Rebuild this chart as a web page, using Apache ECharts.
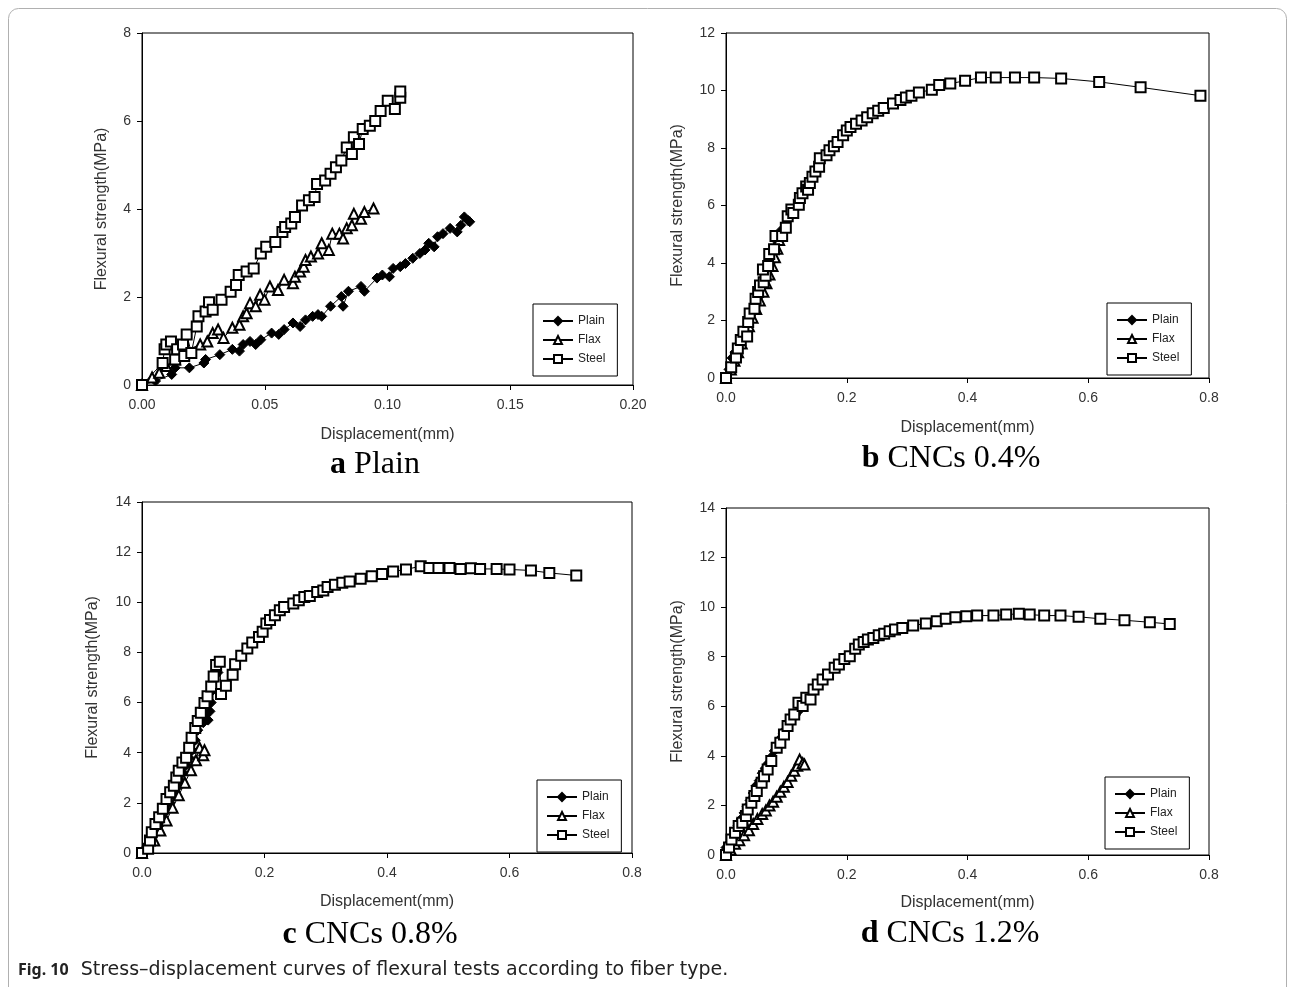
<!DOCTYPE html>
<html>
<head>
<meta charset="utf-8">
<script src="https://cdn.jsdelivr.net/npm/echarts@6/dist/echarts.min.js"></script>
<style>
  html, body { margin: 0; padding: 0; background: #fff; }
  #chart { width: 1295px; height: 987px; }
</style>
</head>
<body>
<div id="chart"></div>
<script>
// Series names shared by all four panels
const seriesNames = ['Plain', 'Flax', 'Steel'];

// Panel captions
const panelLetters = ['a', 'b', 'c', 'd'];
const panelTitles = ['Plain', 'CNCs 0.4%', 'CNCs 0.8%', 'CNCs 1.2%'];

// Axis ranges [min, max, interval]
const xRanges = [[0, 0.2, 0.05], [0, 0.8, 0.2], [0, 0.8, 0.2], [0, 0.8, 0.2]];
const yRanges = [[0, 8, 2], [0, 12, 2], [0, 14, 2], [0, 14, 2]];

// (a) Plain matrix: [displacement mm, flexural strength MPa]
const plainA = [[0,0],[0.0055,0.09],[0.0121,0.24],[0.0135,0.39],[0.0193,0.39],[0.0252,0.50],[0.0259,0.58],[0.0317,0.69],[0.0368,0.81],[0.0397,0.77],[0.0412,0.92],[0.044,0.99],[0.0463,0.92],[0.0484,1.03],[0.0528,1.18],[0.0557,1.15],[0.0579,1.26],[0.0615,1.41],[0.0644,1.33],[0.0666,1.48],[0.0695,1.56],[0.0717,1.60],[0.0732,1.56],[0.0768,1.79],[0.0812,2.01],[0.0819,1.79],[0.0841,2.13],[0.0892,2.24],[0.0906,2.13],[0.0957,2.43],[0.0979,2.50],[0.1008,2.46],[0.1023,2.65],[0.1052,2.69],[0.1073,2.76],[0.1103,2.88],[0.1132,2.99],[0.1153,3.07],[0.1168,3.22],[0.119,3.14],[0.1204,3.37],[0.1226,3.44],[0.1255,3.56],[0.1284,3.48],[0.1299,3.63],[0.1313,3.82],[0.1328,3.74],[0.1335,3.71]];
const flaxA = [[0,0],[0.0041,0.17],[0.007,0.28],[0.0099,0.43],[0.0135,0.58],[0.0172,0.77],[0.0237,0.92],[0.0266,0.99],[0.0288,1.18],[0.031,1.26],[0.0332,1.07],[0.0368,1.30],[0.0397,1.37],[0.0412,1.56],[0.0426,1.63],[0.044,1.86],[0.0463,1.79],[0.0481,2.05],[0.0499,1.94],[0.0521,2.24],[0.0554,2.16],[0.0579,2.39],[0.0615,2.31],[0.0623,2.46],[0.0644,2.58],[0.0659,2.69],[0.0666,2.84],[0.0688,2.92],[0.0717,2.99],[0.0732,3.22],[0.0761,3.07],[0.0775,3.44],[0.0804,3.44],[0.0819,3.33],[0.0834,3.56],[0.0855,3.63],[0.0863,3.89],[0.0892,3.78],[0.0906,3.93],[0.0943,4.01]];
const steelA = [[0,0],[0.0084,0.50],[0.0092,0.81],[0.0099,0.92],[0.0118,0.99],[0.0135,0.58],[0.0143,0.81],[0.0167,0.92],[0.0172,0.66],[0.0182,1.15],[0.0201,0.73],[0.0223,1.33],[0.023,1.56],[0.0259,1.67],[0.0273,1.88],[0.0288,1.71],[0.0324,1.94],[0.0361,2.12],[0.0383,2.27],[0.0394,2.50],[0.0426,2.58],[0.0455,2.65],[0.0484,2.99],[0.0506,3.14],[0.0543,3.25],[0.0572,3.48],[0.0583,3.59],[0.0608,3.67],[0.0623,3.82],[0.0652,4.08],[0.068,4.20],[0.0703,4.27],[0.0713,4.57],[0.0746,4.65],[0.0768,4.80],[0.079,4.95],[0.0812,5.10],[0.0834,5.40],[0.0855,5.25],[0.0863,5.63],[0.0884,5.48],[0.0899,5.82],[0.0928,5.89],[0.095,6.00],[0.0972,6.23],[0.1001,6.46],[0.103,6.27],[0.1052,6.53],[0.1052,6.67]];

// (b) CNCs 0.4%
const plainB = [[0,0],[0.005,0.3],[0.01,0.7],[0.015,0.9],[0.022,1.1],[0.028,1.4],[0.034,1.7],[0.04,2.0],[0.046,2.3],[0.052,2.6],[0.058,2.9],[0.063,3.2],[0.068,3.5],[0.073,3.8],[0.078,4.1],[0.082,4.4],[0.086,4.7],[0.09,5.0],[0.092,5.15]];
const flaxB = [[0,0],[0.008,0.3],[0.014,0.6],[0.02,0.9],[0.026,1.2],[0.032,1.5],[0.038,1.8],[0.044,2.1],[0.05,2.4],[0.056,2.7],[0.062,3.0],[0.067,3.3],[0.072,3.6],[0.077,3.9],[0.081,4.2],[0.085,4.5],[0.088,4.8],[0.09,5.0]];
const steelB = [[0,0],[0.0086,0.37],[0.0165,0.71],[0.0196,1.03],[0.0245,1.32],[0.0288,1.61],[0.035,1.44],[0.0367,1.95],[0.0392,2.24],[0.0471,2.41],[0.049,2.76],[0.0532,2.99],[0.0563,3.22],[0.0624,3.33],[0.0655,3.56],[0.0612,3.77],[0.0698,3.90],[0.0716,4.31],[0.0796,4.48],[0.082,4.94],[0.093,4.94],[0.0991,5.23],[0.1022,5.63],[0.1083,5.86],[0.1114,5.74],[0.1206,6.03],[0.1224,6.26],[0.1267,6.43],[0.1328,6.66],[0.1359,6.55],[0.1389,6.78],[0.1432,7.00],[0.1481,7.18],[0.1542,7.35],[0.1554,7.64],[0.1665,7.75],[0.1714,7.92],[0.1787,8.06],[0.1848,8.21],[0.194,8.44],[0.2001,8.61],[0.2062,8.73],[0.2154,8.84],[0.2246,8.96],[0.2338,9.07],[0.243,9.21],[0.2521,9.30],[0.2613,9.39],[0.2766,9.55],[0.2889,9.67],[0.298,9.76],[0.3072,9.82],[0.3195,9.93],[0.3409,10.03],[0.3531,10.19],[0.3715,10.24],[0.396,10.34],[0.4223,10.45],[0.4468,10.45],[0.4786,10.45],[0.5104,10.45],[0.5551,10.42],[0.6181,10.30],[0.6867,10.11],[0.7858,9.82]];

// (c) CNCs 0.8%
const plainC = [[0,0],[0.008,0.2],[0.015,0.5],[0.022,0.8],[0.028,1.1],[0.034,1.4],[0.04,1.7],[0.046,2.0],[0.052,2.3],[0.057,2.6],[0.062,2.9],[0.067,3.2],[0.072,3.5],[0.077,3.8],[0.082,4.1],[0.087,4.5],[0.091,4.9],[0.095,5.3],[0.1,5.2],[0.104,5.5],[0.108,5.3],[0.111,5.65],[0.113,6.0],[0.116,6.5],[0.118,6.9],[0.12,7.1],[0.122,7.3],[0.124,7.2]];
const flaxC = [[0,0],[0.01,0.2],[0.02,0.5],[0.03,0.9],[0.04,1.3],[0.05,1.8],[0.06,2.3],[0.07,2.8],[0.08,3.3],[0.088,3.7],[0.094,4.2],[0.1,3.9],[0.102,4.1]];
const steelC = [[0,0],[0.01,0.17],[0.013,0.5],[0.016,0.83],[0.022,1.16],[0.028,1.43],[0.034,1.76],[0.04,2.15],[0.046,2.42],[0.052,2.68],[0.056,3.01],[0.06,3.28],[0.066,3.61],[0.072,3.80],[0.077,4.20],[0.081,4.60],[0.087,4.99],[0.091,5.26],[0.096,5.59],[0.102,5.98],[0.107,6.25],[0.113,6.64],[0.117,7.04],[0.121,7.50],[0.127,7.63],[0.129,6.34],[0.137,6.67],[0.148,7.11],[0.152,7.53],[0.162,7.87],[0.172,8.16],[0.18,8.40],[0.191,8.62],[0.197,8.82],[0.203,9.15],[0.209,9.29],[0.217,9.48],[0.225,9.68],[0.232,9.81],[0.247,9.95],[0.256,10.08],[0.265,10.21],[0.274,10.25],[0.286,10.41],[0.296,10.47],[0.303,10.61],[0.315,10.70],[0.327,10.78],[0.339,10.83],[0.357,10.94],[0.375,11.04],[0.392,11.13],[0.41,11.23],[0.431,11.31],[0.455,11.44],[0.469,11.37],[0.484,11.37],[0.502,11.37],[0.52,11.33],[0.537,11.36],[0.552,11.33],[0.579,11.33],[0.6,11.31],[0.635,11.27],[0.665,11.17],[0.709,11.07]];

// (d) CNCs 1.2%
const plainD = [[0,0.3],[0.006,0.5],[0.01,0.7],[0.015,0.95],[0.02,1.2],[0.025,1.45],[0.03,1.7],[0.035,1.95],[0.04,2.2],[0.045,2.5],[0.05,2.8],[0.055,3.0],[0.06,3.3],[0.065,3.5],[0.07,3.7],[0.075,3.95],[0.08,4.2],[0.085,4.45],[0.09,4.7],[0.095,4.9],[0.1,5.1],[0.105,5.3],[0.11,5.5],[0.115,5.65],[0.12,5.8]];
const flaxD = [[0,0],[0.008,0.2],[0.015,0.45],[0.022,0.6],[0.03,0.8],[0.038,1.0],[0.045,1.25],[0.052,1.45],[0.06,1.65],[0.066,1.8],[0.072,2.0],[0.078,2.15],[0.084,2.35],[0.09,2.55],[0.096,2.75],[0.102,2.95],[0.108,3.2],[0.113,3.4],[0.118,3.6],[0.122,3.85],[0.127,3.7],[0.13,3.65]];
const steelD = [[0,0],[0.005,0.30],[0.009,0.63],[0.015,0.90],[0.021,1.17],[0.027,1.30],[0.033,1.57],[0.036,1.84],[0.042,2.11],[0.047,2.38],[0.051,2.58],[0.059,2.92],[0.063,3.18],[0.069,3.45],[0.075,3.79],[0.084,4.33],[0.09,4.53],[0.096,4.86],[0.102,5.20],[0.107,5.47],[0.113,5.67],[0.12,6.14],[0.127,6.01],[0.133,6.34],[0.14,6.27],[0.145,6.68],[0.152,6.88],[0.16,7.08],[0.169,7.28],[0.18,7.55],[0.187,7.69],[0.196,7.91],[0.205,8.02],[0.214,8.32],[0.22,8.49],[0.228,8.59],[0.235,8.69],[0.244,8.76],[0.253,8.87],[0.262,8.93],[0.271,9.03],[0.28,9.10],[0.292,9.16],[0.31,9.26],[0.331,9.34],[0.349,9.43],[0.364,9.53],[0.38,9.59],[0.398,9.63],[0.416,9.66],[0.443,9.66],[0.464,9.70],[0.485,9.73],[0.503,9.70],[0.527,9.66],[0.554,9.66],[0.584,9.61],[0.62,9.53],[0.66,9.47],[0.702,9.39],[0.735,9.32]];

const panelData = [
  [plainA, flaxA, steelA],
  [plainB, flaxB, steelB],
  [plainC, flaxC, steelC],
  [plainD, flaxD, steelD]
];

// Layout of the four plot boxes
const grids = [
  { left: 142, top: 33, width: 491, height: 352 },
  { left: 726, top: 33, width: 483, height: 345 },
  { left: 142, top: 502, width: 490, height: 351 },
  { left: 726, top: 508, width: 483, height: 347 }
];
const xNameGaps = [42, 42, 41, 40];
const yNameGaps = [32, 40, 41, 40];
const legendPos = [
  { left: 533, top: 304 },
  { left: 1107, top: 303 },
  { left: 537, top: 780 },
  { left: 1105, top: 777 }
];
const captionPos = [[375, 465], [951, 459], [370, 935], [950, 934]];

const symbols = ['diamond', 'emptyTriangle', 'emptyRect'];
const symbolSizes = [10, 10, 10];
const labelColor = '#333';
const tickFont = 'Arial, "Liberation Sans", sans-serif';

const option = {
  animation: false,
  backgroundColor: '#fff',
  grid: grids.map(g => Object.assign({ show: true, borderColor: '#000', borderWidth: 1, backgroundColor: 'transparent' }, g)),
  xAxis: grids.map((g, i) => ({
    type: 'value',
    gridIndex: i,
    min: xRanges[i][0], max: xRanges[i][1], interval: xRanges[i][2],
    name: 'Displacement(mm)',
    nameLocation: 'middle',
    nameGap: xNameGaps[i],
    nameTextStyle: { fontSize: 16, color: labelColor, fontFamily: tickFont },
    axisLine: { show: true, lineStyle: { color: '#000', width: 1 } },
    axisTick: { show: true, length: 5, lineStyle: { color: '#000' } },
    splitLine: { show: false },
    axisLabel: {
      fontSize: 14, color: labelColor, fontFamily: tickFont, margin: 13,
      formatter: v => v.toFixed(i === 0 ? 2 : 1)
    }
  })),
  yAxis: grids.map((g, i) => ({
    type: 'value',
    gridIndex: i,
    min: yRanges[i][0], max: yRanges[i][1], interval: yRanges[i][2],
    name: 'Flexural strength(MPa)',
    nameLocation: 'middle',
    nameGap: yNameGaps[i],
    nameTextStyle: { fontSize: 16, color: labelColor, fontFamily: tickFont },
    axisLine: { show: true, lineStyle: { color: '#000', width: 1 } },
    axisTick: { show: true, length: 5, lineStyle: { color: '#000' } },
    splitLine: { show: false },
    axisLabel: { fontSize: 14, color: labelColor, fontFamily: tickFont, margin: 11 }
  })),
  legend: legendPos.map(p => ({
    data: seriesNames,
    left: p.left, top: p.top,
    orient: 'vertical',
    borderColor: '#000', borderWidth: 1,
    padding: [11, 12, 11, 9],
    itemWidth: 30, itemHeight: 10, itemGap: 7,
    selectedMode: false,
    textStyle: { fontSize: 12, color: '#222', fontFamily: tickFont }
  })),
  series: [],
  graphic: [
    {
      type: 'rect',
      shape: { x: 8.5, y: 8.5, width: 1278, height: 1020, r: 10 },
      style: { fill: 'none', stroke: '#b0b0b0', lineWidth: 1 },
      silent: true
    },
    {
      type: 'text',
      x: 18, y: 970,
      style: {
        text: '{b|Fig. 10}  Stress–displacement curves of flexural tests according to fiber type.',
        verticalAlign: 'middle',
        fill: '#222',
        font: '19px "DejaVu Sans", "Noto Sans", sans-serif',
        rich: {
          b: { fontWeight: 'bold', fontSize: 16, fontFamily: '"Noto Sans", sans-serif', fill: '#222' }
        }
      }
    }
  ].concat(captionPos.map((c, i) => ({
    type: 'text',
    x: c[0], y: c[1],
    style: {
      text: '{b|' + panelLetters[i] + '} ' + panelTitles[i],
      align: 'center',
      verticalAlign: 'middle',
      fill: '#000',
      font: '32px "Liberation Serif", "DejaVu Serif", serif',
      rich: {
        b: { fontWeight: 'bold', fontSize: 32, fontFamily: '"Liberation Serif", "DejaVu Serif", serif', fill: '#000' }
      }
    }
  })))
};

panelData.forEach((set, i) => {
  set.forEach((data, k) => {
    option.series.push({
      type: 'line',
      name: seriesNames[k],
      xAxisIndex: i,
      yAxisIndex: i,
      data: data,
      symbol: symbols[k],
      symbolSize: symbolSizes[k],
      showSymbol: true,
      clip: false,
      color: '#000',
      lineStyle: { color: '#000', width: 1 },
      itemStyle: { color: '#000', borderColor: '#000', borderWidth: 1 }
    });
  });
});

const chart = echarts.init(document.getElementById('chart'), null, { renderer: 'canvas' });
chart.setOption(option);
</script>
</body>
</html>
